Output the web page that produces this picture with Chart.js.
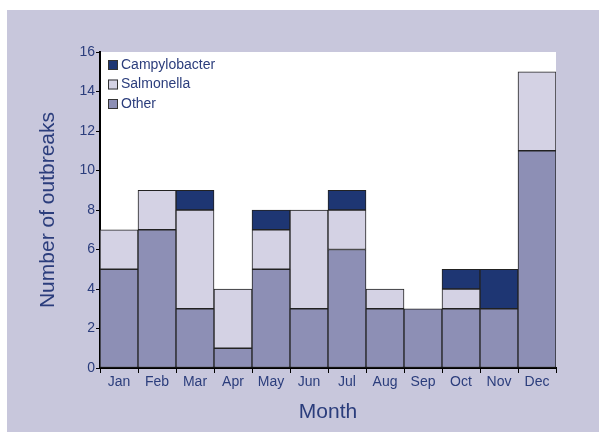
<!DOCTYPE html>
<html>
<head>
<meta charset="utf-8">
<script src="https://cdn.jsdelivr.net/npm/chart.js@4/dist/chart.umd.min.js"></script>
<style>
  body { margin: 0; background: #fff; }
  #wrap { width: 599px; height: 432px; }
</style>
</head>
<body>
<div id="wrap"><canvas id="outbreakChart"></canvas></div>
<script>
// Outbreaks per month, by organism
const months = ['Jan', 'Feb', 'Mar', 'Apr', 'May', 'Jun', 'Jul', 'Aug', 'Sep', 'Oct', 'Nov', 'Dec'];
const other = [5, 7, 3, 1, 5, 3, 6, 3, 3, 3, 3, 11];
const salmonella = [2, 2, 5, 3, 2, 5, 2, 1, 0, 1, 0, 4];
const campylobacter = [0, 0, 1, 0, 1, 0, 1, 0, 0, 1, 2, 0];
const yTicks = [0, 2, 4, 6, 8, 10, 12, 14, 16];

const textColor = '#2b3d7c';
const fontFamily = '"Liberation Sans", Arial, sans-serif';

// lavender panel + white plot area
const backdrop = {
  id: 'backdrop',
  beforeDraw(chart) {
    const { ctx, chartArea } = chart;
    ctx.save();
    ctx.fillStyle = '#ffffff';
    ctx.fillRect(0, 0, chart.width, chart.height);
    ctx.fillStyle = '#c8c7dc';
    ctx.fillRect(7, 10, chart.width - 7, chart.height - 10);
    ctx.fillStyle = '#ffffff';
    ctx.fillRect(chartArea.left, chartArea.top, chartArea.right - chartArea.left, chartArea.bottom - chartArea.top);
    ctx.restore();
  }
};

// legend drawn inside the plot, top-left
const insideLegend = {
  id: 'insideLegend',
  afterDraw(chart) {
    const { ctx, chartArea } = chart;
    const items = chart.data.datasets.slice().reverse();
    ctx.save();
    ctx.font = '14px ' + fontFamily;
    ctx.textBaseline = 'middle';
    items.forEach((ds, i) => {
      const y = chartArea.top + 13 + i * 19.5;
      const x = chartArea.left + 8;
      ctx.fillStyle = ds.backgroundColor;
      ctx.fillRect(x, y - 5, 10, 10);
      ctx.strokeStyle = '#333';
      ctx.lineWidth = 1;
      ctx.strokeRect(x + 0.5, y - 4.5, 9, 9);
      ctx.fillStyle = textColor;
      ctx.fillText(ds.label, x + 13, y);
    });
    ctx.restore();
  }
};

const ctx = document.getElementById('outbreakChart').getContext('2d');
const outbreakChart = new Chart(ctx, {
  type: 'bar',
  data: {
    labels: months,
    datasets: [
      { label: 'Other', data: other, backgroundColor: '#8d8fb5' },
      { label: 'Salmonella', data: salmonella, backgroundColor: '#d4d2e4' },
      { label: 'Campylobacter', data: campylobacter, backgroundColor: '#1e3673' }
    ]
  },
  options: {
    responsive: true,
    maintainAspectRatio: false,
    animation: false,
    layout: { padding: { top: 52, right: 43, left: 0, bottom: 0 } },
    datasets: {
      bar: {
        barPercentage: 1,
        categoryPercentage: 1,
        borderColor: '#222',
        borderWidth: 1,
        borderSkipped: false
      }
    },
    plugins: {
      legend: { display: false },
      tooltip: { enabled: false }
    },
    scales: {
      x: {
        stacked: true,
        grid: { drawOnChartArea: false, tickLength: 5, color: '#000', offset: true },
        border: { color: '#000', width: 2 },
        ticks: { color: textColor, font: { family: fontFamily, size: 14 }, padding: 1, maxRotation: 0 },
        title: {
          display: true,
          text: 'Month',
          color: textColor,
          font: { family: fontFamily, size: 21 },
          padding: { top: 0, bottom: 7 }
        },
        afterFit(scale) { scale.height = 64; }
      },
      y: {
        stacked: true,
        min: 0,
        max: 16,
        afterBuildTicks(scale) { scale.ticks = yTicks.map(v => ({ value: v })); },
        grid: { drawOnChartArea: false, tickLength: 4, color: '#000' },
        border: { color: '#000', width: 2 },
        ticks: { color: textColor, font: { family: fontFamily, size: 14 }, padding: 1 },
        title: {
          display: true,
          text: 'Number of outbreaks',
          color: textColor,
          font: { family: fontFamily, size: 21 },
          padding: { top: 36, bottom: 0 }
        },
        afterFit(scale) { scale.width = 100; }
      }
    }
  },
  plugins: [backdrop, insideLegend]
});
</script>
</body>
</html>
